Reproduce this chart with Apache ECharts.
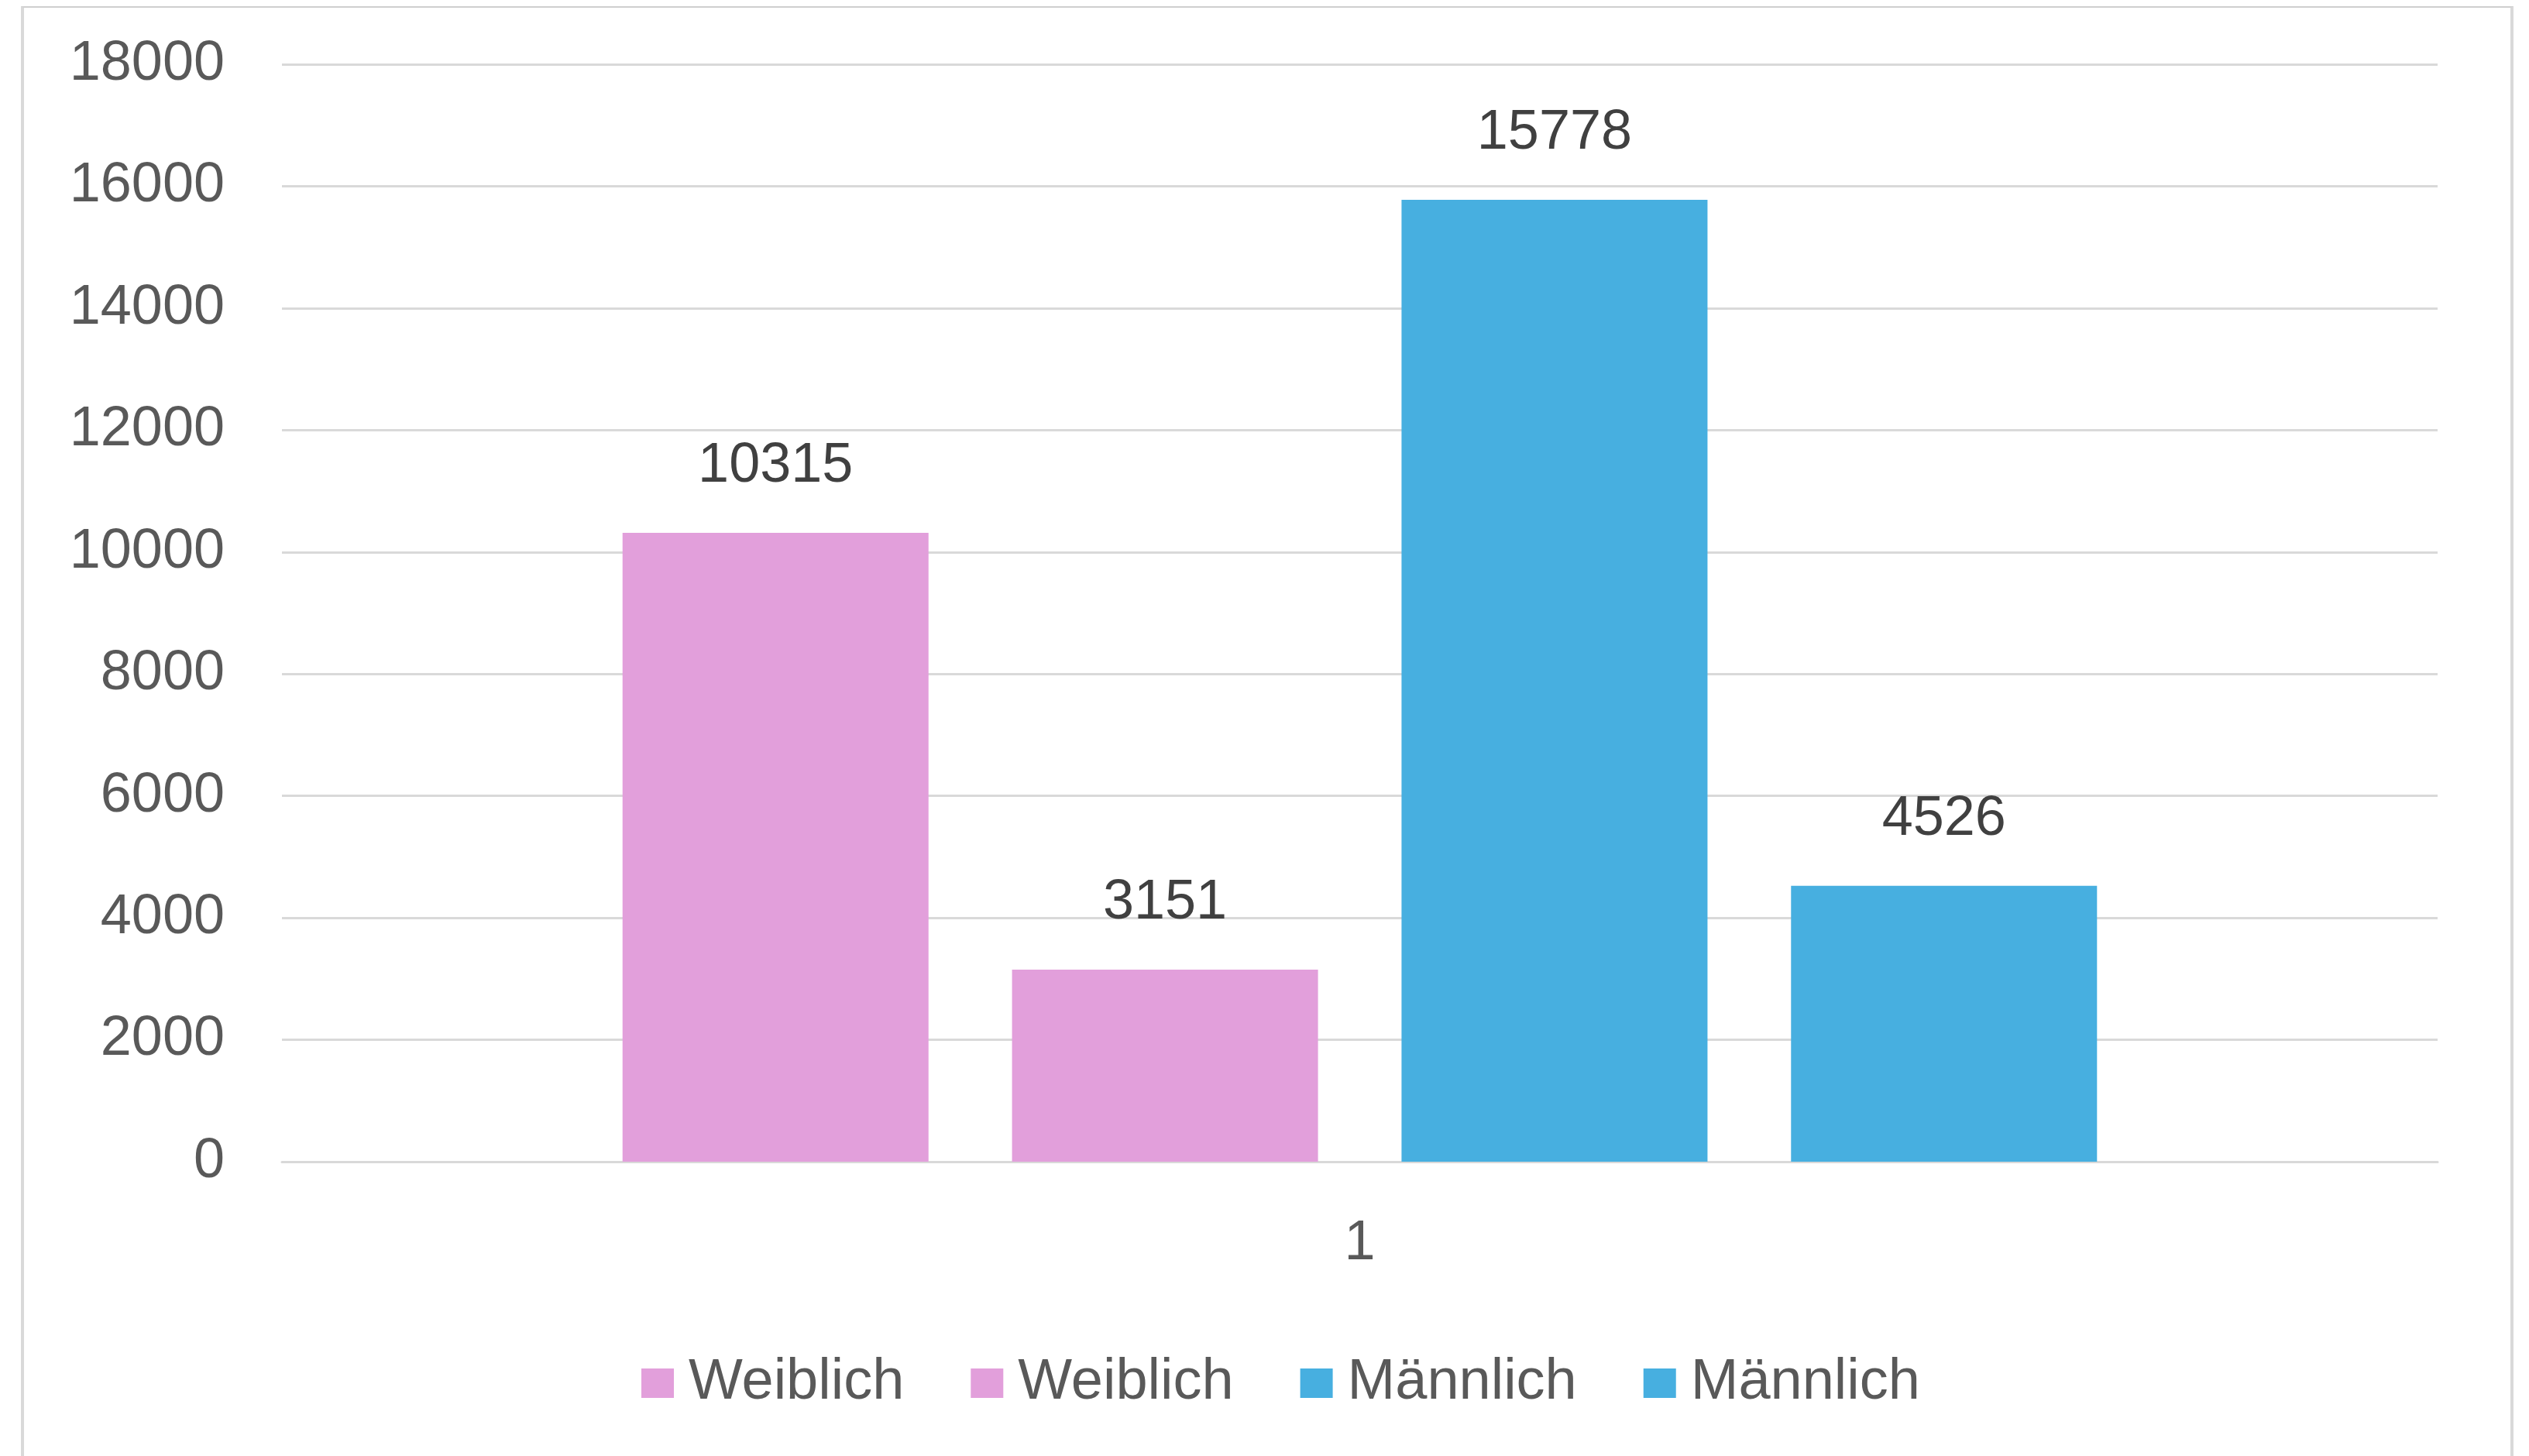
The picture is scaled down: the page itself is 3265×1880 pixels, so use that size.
<!DOCTYPE html>
<html>
<head>
<meta charset="utf-8">
<script src="https://cdn.jsdelivr.net/npm/echarts@6/dist/echarts.min.js"></script>
<style>
  html, body { margin: 0; padding: 0; background: #fff; overflow: hidden; }
  #frame {
    position: absolute; left: 27px; top: 8px; width: 3210px; height: 1900px;
    border-top: 2px solid #cfcfcf; border-left: 4px solid #d9d9d9; border-right: 4px solid #d9d9d9;
  }
  #main { position: absolute; left: 0; top: 0; width: 3265px; height: 1880px; }
</style>
</head>
<body>
<div id="frame"></div>
<div id="main"></div>
<script>
// 数据
var categories = ['1'];
var seriesNames = ['Weiblich', 'Weiblich', 'Männlich', 'Männlich'];
var seriesValues = [[10315], [3151], [15778], [4526]];
var seriesColors = ['#e29fdb', '#e29fdb', '#47afe0', '#47afe0'];
var yTicks = { min: 0, max: 18000, interval: 2000 };

var myChart = echarts.init(document.getElementById('main'), null, { renderer: 'canvas' });
var fontFamily = '"Liberation Sans", Arial, sans-serif';

// 同名系列在图例里会被合并，用不换行空格区分，显示时再去掉
var seen = {};
var seriesData = seriesNames.map(function (name, i) {
  var key = name;
  while (seen[key]) key += '\u00a0';
  seen[key] = true;
  return {
    name: key,
    type: 'bar',
    data: seriesValues[i],
    barGap: '27.3%',
    barCategoryGap: '31.6%',
    itemStyle: { color: seriesColors[i] },
    label: {
      show: true,
      position: 'top',
      distance: 50,
      color: '#404040',
      fontSize: 72,
      fontFamily: fontFamily
    }
  };
});

var option = {
  backgroundColor: 'transparent',
  animation: false,
  grid: { left: 364, right: 118, top: 83, bottom: 380, containLabel: false },
  legend: {
    left: 823,
    top: 1744,
    itemWidth: 42,
    itemHeight: 38,
    itemGap: 86,
    icon: 'rect',
    formatter: function (name) { return name.replace(/\u00a0/g, ''); },
    textStyle: { color: '#595959', fontSize: 74, fontFamily: fontFamily, padding: [0, 0, 0, 14] }
  },
  xAxis: {
    type: 'category',
    data: categories,
    axisTick: { show: false },
    axisLine: { lineStyle: { color: '#d9d9d9', width: 3 } },
    axisLabel: { color: '#595959', fontSize: 72, fontFamily: fontFamily, margin: 70 }
  },
  yAxis: {
    type: 'value',
    min: yTicks.min,
    max: yTicks.max,
    interval: yTicks.interval,
    axisLine: { show: false },
    axisTick: { show: false },
    splitLine: { lineStyle: { color: '#d9d9d9', width: 3 } },
    axisLabel: {
      color: '#595959', fontSize: 72, fontFamily: fontFamily, margin: 74,
      formatter: function (v) { return String(v); }
    }
  },
  series: seriesData
};

myChart.setOption(option);
</script>
</body>
</html>
